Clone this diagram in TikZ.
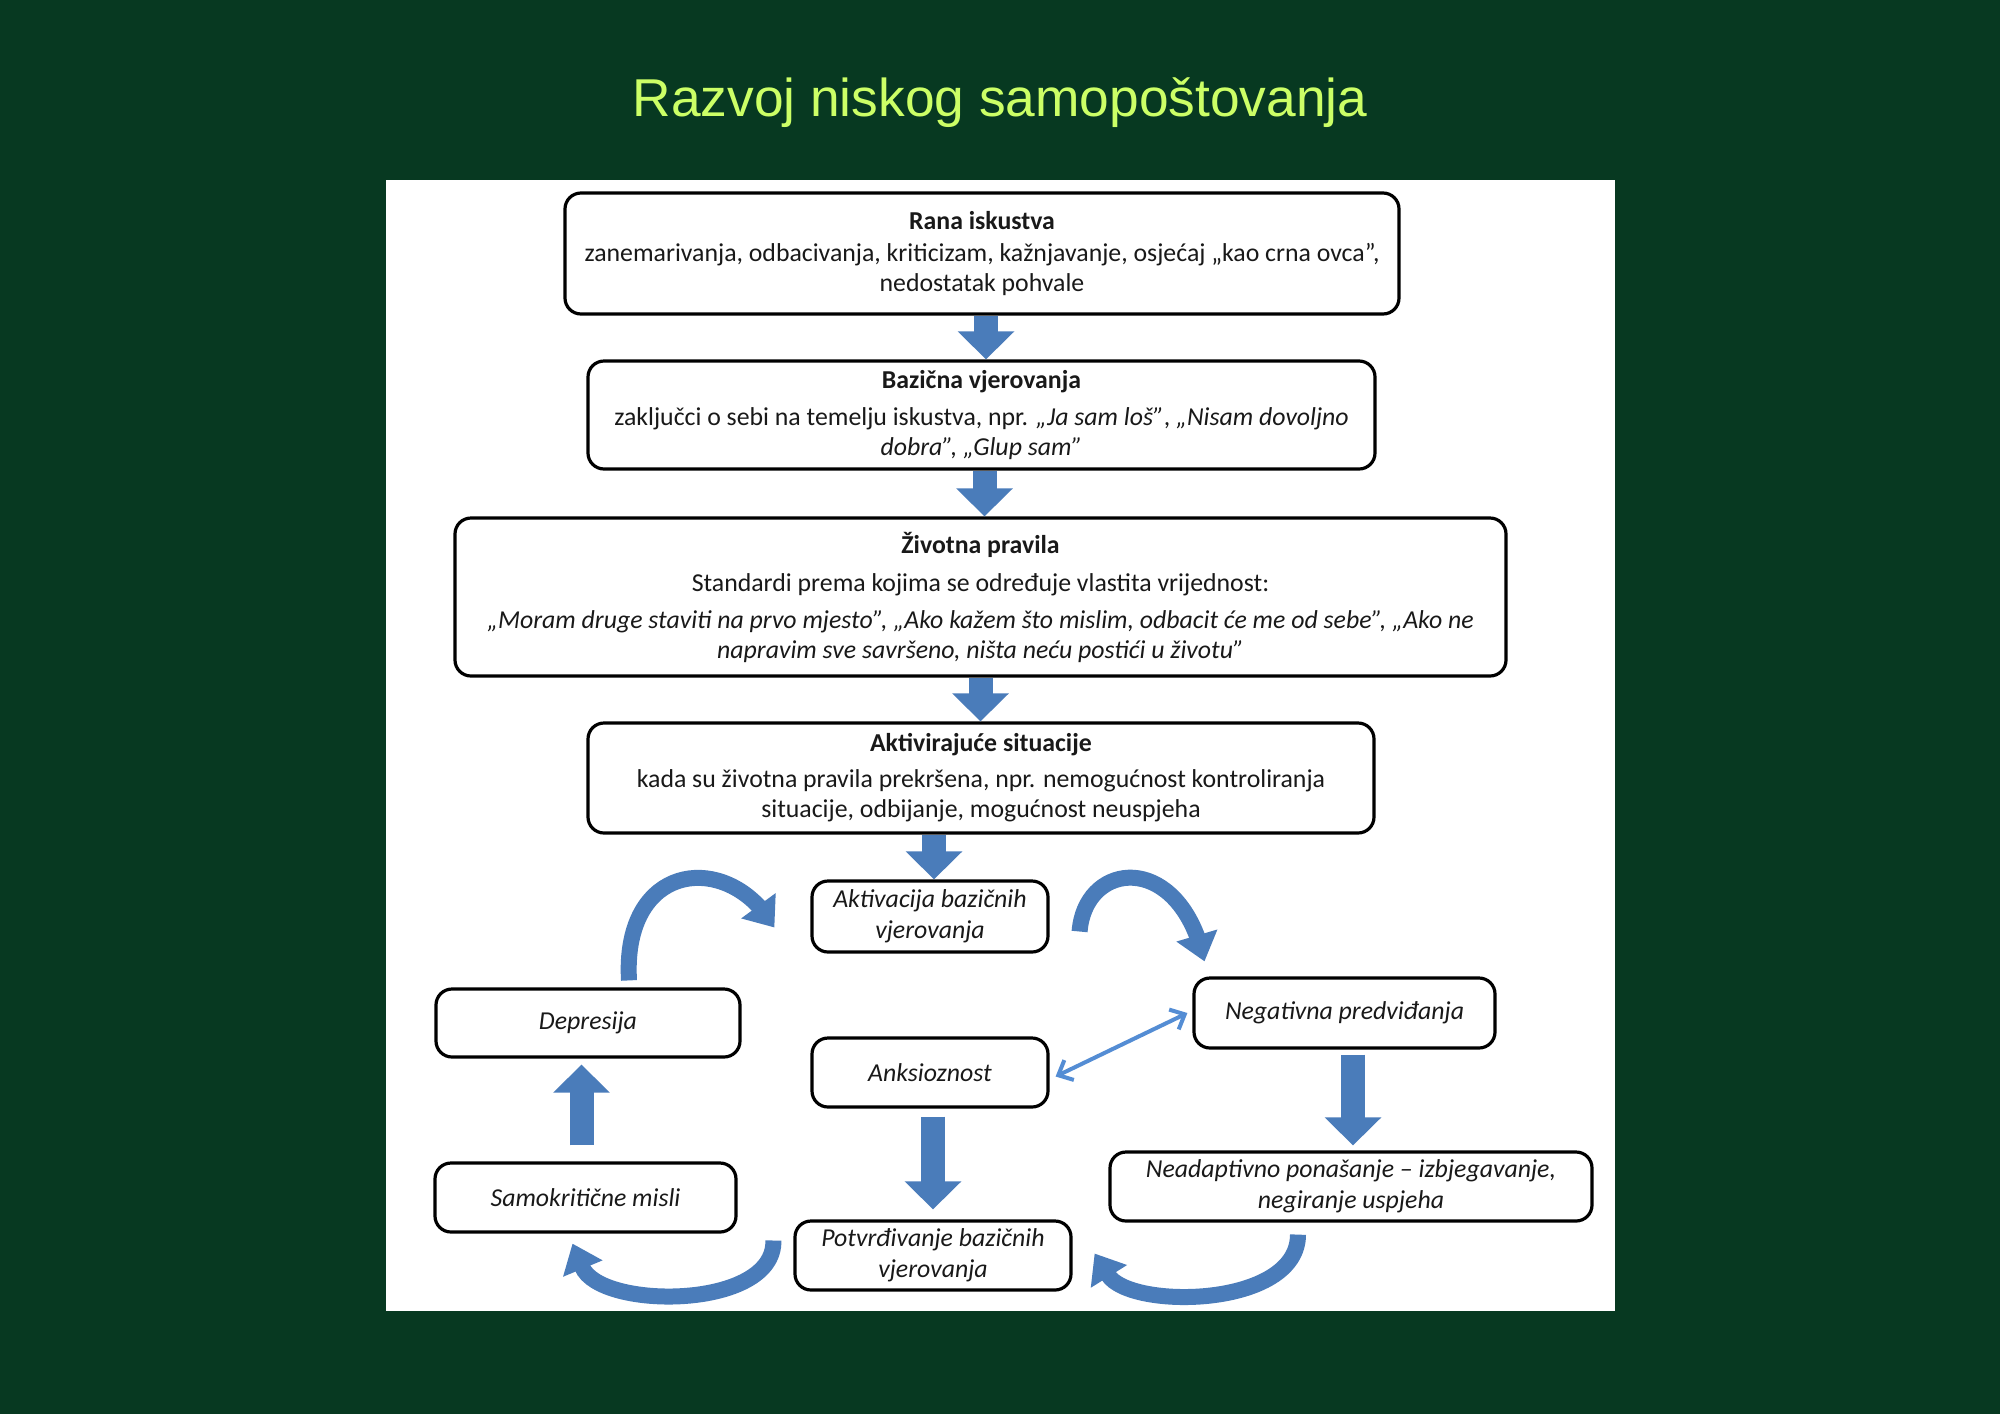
\documentclass[tikz,border=0pt]{standalone}
\usepackage{fontspec}
\setmainfont{Carlito}
\newfontfamily\titlefont{Liberation Sans}
\usetikzlibrary{arrows.meta,bending}
\definecolor{bg}{RGB}{7,57,33}
\definecolor{titlegreen}{RGB}{204,255,102}
\definecolor{arrowblue}{RGB}{74,124,186}
\definecolor{thinblue}{RGB}{84,141,212}
\definecolor{txt}{RGB}{25,25,25}
\tikzset{
  box/.style={draw=black, line width=3.2pt, rounded corners=16pt, fill=white,
    align=center, inner sep=0pt, text=txt, font=\fontsize{25.8}{30}\selectfont},
  ibox/.style={box, font=\fontsize{25.8}{31}\selectfont\itshape},
  blockarrow/.style={draw=arrowblue, line width=24pt,
    -{Triangle[length=28pt,width=55pt]}},
  curvearrow/.style={draw=arrowblue, line width=16pt,
    -{Triangle[length=27pt,width=41pt]}},
  quickcurvearrow/.style={draw=arrowblue, line width=16pt,
    -{Triangle[length=27pt,width=41pt,quick]}},
  thinarrow/.style={draw=thinblue, line width=4pt,
    {Straight Barb[length=12pt,width=22pt]}-{Straight Barb[length=12pt,width=22pt]}}
}
\begin{document}
\begin{tikzpicture}[x=1pt,y=-1pt]
\useasboundingbox (0,0) rectangle (2000,1414);
\fill[bg] (0,0) rectangle (2000,1414);
\fill[white] (386,180) rectangle (1615,1311);

\node[font=\titlefont\fontsize{53.3}{60}\selectfont, text=titlegreen, anchor=base] (title) at (1000,116) {Razvoj niskog samopoštovanja};

\node[box, minimum width=834pt, minimum height=121pt] (rana) at (982,253.5)
  {{\bfseries Rana iskustva}\\[2pt]
   zanemarivanja, odbacivanja, kriticizam, kažnjavanje, osjećaj „kao crna ovca”,\\
   nedostatak pohvale};
\node[box, minimum width=787pt, minimum height=108pt] (baz) at (981.5,415)
  {{\bfseries Bazična vjerovanja}\\[7pt]
   zaključci o sebi na temelju iskustva, npr. \textit{„Ja sam loš”}, \textit{„Nisam dovoljno}\\
   \textit{dobra”, „Glup sam”}};
\node[box, minimum width=1051pt, minimum height=158pt] (ziv) at (980.5,597)
  {{\bfseries Životna pravila}\\[8pt]
   Standardi prema kojima se određuje vlastita vrijednost:\\[7pt]
   \textit{„Moram druge staviti na prvo mjesto”, „Ako kažem što mislim, odbacit će me od sebe”, „Ako ne}\\
   \textit{napravim sve savršeno, ništa neću postići u životu”}};
\node[box, minimum width=786pt, minimum height=110pt] (sit) at (981,778)
  {{\bfseries Aktivirajuće situacije}\\[6pt]
   kada su životna pravila prekršena, npr. nemogućnost kontroliranja\\
   situacije, odbijanje, mogućnost neuspjeha};

\node[ibox, minimum width=236pt, minimum height=71pt] (akt) at (930,916.5) {Aktivacija bazičnih\\vjerovanja};
\node[ibox, minimum width=304pt, minimum height=68pt] (dep) at (588,1023) {Depresija};
\node[ibox, minimum width=301pt, minimum height=70pt] (neg) at (1344.5,1013) {Negativna predviđanja};
\node[ibox, minimum width=236pt, minimum height=69pt] (anks) at (930,1072.5) {Anksioznost};
\node[ibox, minimum width=301pt, minimum height=69pt] (samo) at (585.5,1197.5) {Samokritične misli};
\node[ibox, minimum width=482pt, minimum height=69pt] (nead) at (1351,1186.5) {Neadaptivno ponašanje – izbjegavanje,\\negiranje uspjeha};
\node[ibox, minimum width=276pt, minimum height=69pt] (potv) at (933,1255.5) {Potvrđivanje bazičnih\\vjerovanja};

% straight block arrows
\draw[blockarrow] ([xshift=4pt]rana.south) -- ([xshift=4pt]rana.south |- baz.north);
\draw[blockarrow] ([xshift=3pt]baz.south) -- ([xshift=3pt]baz.south |- ziv.north);
\draw[blockarrow] (ziv.south) -- (ziv.south |- sit.north);
\draw[blockarrow] ([xshift=4pt]akt.north |- sit.south) -- ([xshift=4pt]akt.north);
\draw[blockarrow, shorten <=8pt, shorten >=10pt] ([xshift=3pt]anks.south) -- ([xshift=3pt]anks.south |- potv.north);
\draw[blockarrow, shorten <=5pt, shorten >=5pt] ([xshift=2pt]nead.north |- neg.south) -- ([xshift=2pt]nead.north);
\draw[blockarrow, shorten <=16pt, shorten >=6pt] ([xshift=-4pt]samo.north) -- ([xshift=-4pt]samo.north |- dep.south);

% thin double arrow
\draw[thinarrow] ([xshift=6pt,yshift=-4pt]anks.east) -- ([xshift=-5pt]neg.west);

% curved arrows
\draw[curvearrow] ([xshift=41pt,yshift=7pt]dep.north) .. controls (622,860) and (730,850) .. ([xshift=-36pt,yshift=-11pt]akt.west);
\draw[curvearrow] ([xshift=30pt,yshift=-15pt]akt.east) .. controls (1085,860) and (1180,850) .. ([xshift=-140pt,yshift=15pt]neg.north);
\draw[quickcurvearrow] ([xshift=-20pt,yshift=15pt]potv.west) .. controls (775,1310) and (600,1310) .. ([xshift=-13pt,yshift=-10pt]samo.south);
\draw[quickcurvearrow] ([xshift=-53pt,yshift=-12pt]nead.south) .. controls (1298,1308) and (1130,1310) .. ([xshift=22pt,yshift=2pt]potv.east);
\end{tikzpicture}
\end{document}
